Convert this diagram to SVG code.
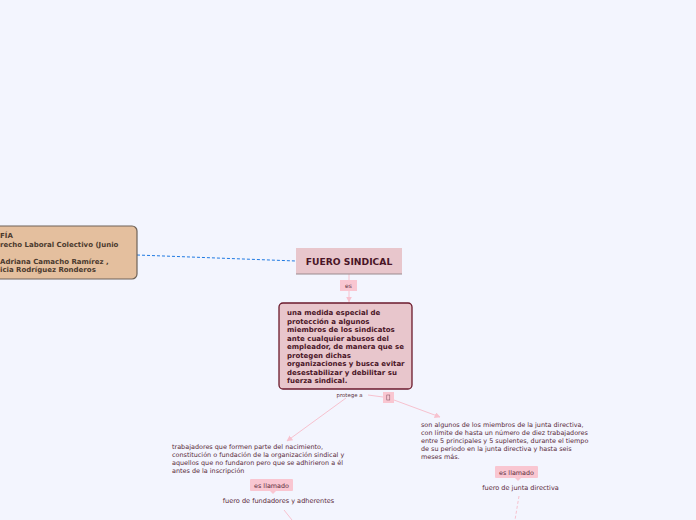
<svg xmlns="http://www.w3.org/2000/svg" width="696" height="520" viewBox="0 0 696 520">
<defs>
<style>
.t{font-family:"DejaVu Sans","Liberation Sans",sans-serif;}
.bold{font-weight:bold;}
.lbl{fill:#f9c6d1;}
.pl{stroke:#f7c2cf;stroke-width:1;fill:none;}
</style>
<marker id="ah" viewBox="0 0 10 10" refX="9" refY="5" markerWidth="6" markerHeight="6" orient="auto-start-reverse" markerUnits="userSpaceOnUse">
<path d="M0,0 L10,5 L0,10 z" fill="#f7c2cf"/>
</marker>
</defs>
<rect x="0" y="0" width="696" height="520" fill="#f3f5fe"/>
<g id="connectors">
<path d="M137,255 L296,261" stroke="#1f7ae3" stroke-width="1" stroke-dasharray="3,2" fill="none"/>
<path class="pl" d="M349,274 L349,302" marker-end="url(#ah)"/>
<path class="pl" d="M346,398 L287,441" marker-end="url(#ah)"/>
<path class="pl" d="M368,395 L383,397"/>
<path class="pl" d="M394,400 L440,417" marker-end="url(#ah)"/>
<path class="pl" d="M284,510 L292,520"/>
<path class="pl" d="M519,496 L515,520" stroke-dasharray="3,2"/>
</g>
<g id="bibliografia">
<rect x="-20" y="226" width="157" height="53" rx="5" fill="#e4bf9e" stroke="#6e6258" stroke-width="1.2"/>
<g class="t bold" font-size="7" fill="#4b3a2e">
<text x="0" y="237.5">FÍA</text>
<text x="0" y="246.5">recho Laboral Colectivo (Junio</text>
<text x="0" y="263.5">Adriana Camacho Ramírez ,</text>
<text x="0" y="272">icia Rodríguez Ronderos</text>
</g>
</g>
<g id="fuero">
<rect x="296" y="248" width="106" height="26" fill="#e8c6cc"/>
<path d="M296,274 L402,274" stroke="#9a8a8e" stroke-width="1.2"/>
<text class="t bold" x="349" y="264.5" font-size="9.2" fill="#4a1527" text-anchor="middle">FUERO SINDICAL</text>
</g>
<g id="lbl-es">
<rect class="lbl" x="340" y="280" width="17" height="11"/>
<text class="t" x="348.5" y="288" font-size="6" fill="#5a3040" text-anchor="middle">es</text>
</g>
<g id="definicion">
<rect x="279" y="303" width="133" height="86" rx="4" fill="#e8c6cc" stroke="#6b1a2c" stroke-width="1.3"/>
<g class="t bold" font-size="7" fill="#4a1527">
<text x="287" y="315">una medida especial de</text>
<text x="287" y="323.5">protección a algunos</text>
<text x="287" y="332">miembros de los sindicatos</text>
<text x="287" y="340.5">ante cualquier abusos del</text>
<text x="287" y="349">empleador, de manera que se</text>
<text x="287" y="357.5">protegen dichas</text>
<text x="287" y="366">organizaciones y busca evitar</text>
<text x="287" y="374.5">desestabilizar y debilitar su</text>
<text x="287" y="383">fuerza sindical.</text>
</g>
</g>
<g id="lbl-protege">
<text class="t" x="349.5" y="397" font-size="5.4" fill="#5a3040" text-anchor="middle">protege a</text>
</g>
<g id="lbl-box">
<rect class="lbl" x="383" y="392" width="11" height="11"/>
<rect x="386.8" y="395" width="3" height="5" fill="none" stroke="#7a4a5a" stroke-width="0.5"/>
</g>
<g id="fundadores-desc">
<g class="t" font-size="6.45" fill="#5a2a3a">
<text x="172" y="448.5">trabajadores que formen parte del nacimiento,</text>
<text x="172" y="456.5">constitución o fundación de la organización sindical y</text>
<text x="172" y="464.5">aquellos que no fundaron pero que se adhirieron a él</text>
<text x="172" y="472.5">antes de la inscripción</text>
</g>
</g>
<g id="lbl-llamado1">
<rect class="lbl" x="250" y="479" width="43" height="12" rx="1"/>
<path d="M270,491 L273,494 L276,491 z" fill="#f9c6d1"/>
<text class="t" x="271.5" y="487.8" font-size="6.4" fill="#5a2a3a" text-anchor="middle">es llamado</text>
</g>
<g id="fundadores">
<text class="t" x="278.5" y="502.5" font-size="6.55" fill="#5a2a3a" text-anchor="middle">fuero de fundadores y adherentes</text>
</g>
<g id="junta-desc">
<g class="t" font-size="6.45" fill="#5a2a3a">
<text x="421" y="426.5">son algunos de los miembros de la junta directiva,</text>
<text x="421" y="434.5">con límite de hasta un número de diez trabajadores</text>
<text x="421" y="442.5">entre 5 principales y 5 suplentes, durante el tiempo</text>
<text x="421" y="450.5">de su periodo en la junta directiva y hasta seis</text>
<text x="421" y="458.5">meses más.</text>
</g>
</g>
<g id="lbl-llamado2">
<rect class="lbl" x="495" y="466" width="43" height="12" rx="1"/>
<path d="M515,478 L518,481 L521,478 z" fill="#f9c6d1"/>
<text class="t" x="516.5" y="474.8" font-size="6.4" fill="#5a2a3a" text-anchor="middle">es llamado</text>
</g>
<g id="junta">
<text class="t" x="520.5" y="489.5" font-size="6.55" fill="#5a2a3a" text-anchor="middle">fuero de junta directiva</text>
</g>
</svg>
